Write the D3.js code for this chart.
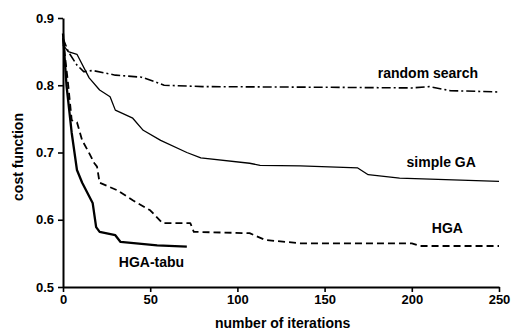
<!DOCTYPE html>
<html>
<head>
<meta charset="utf-8">
<script src="https://cdn.jsdelivr.net/npm/d3@7"></script>
<style>
  body { margin: 0; background: #fff; }
  svg { display: block; }
</style>
</head>
<body>
<div id="chart"></div>
<script>
const iterTicks = [0, 50, 100, 150, 200, 250];
const costTicks = [0.5, 0.6, 0.7, 0.8, 0.9];

// [iteration, cost]
const randomSearch = [[0, 0.87], [3, 0.85], [8, 0.83], [12, 0.82], [17, 0.822], [30, 0.815],
  [45, 0.812], [52, 0.806], [58, 0.80], [80, 0.798], [150, 0.797], [200, 0.796], [210, 0.798],
  [222, 0.792], [250, 0.79]];
const simpleGA = [[0, 0.86], [3, 0.85], [8, 0.846], [15, 0.811], [21, 0.793], [27, 0.783],
  [30, 0.763], [40, 0.751], [46, 0.733], [56, 0.718], [71, 0.70], [79, 0.692], [107, 0.684],
  [113, 0.681], [136, 0.68], [169, 0.677], [175, 0.667], [193, 0.662], [250, 0.657]];
const hga = [[0, 0.87], [3, 0.80], [5, 0.748], [8, 0.745], [11, 0.718], [14, 0.704],
  [18, 0.684], [19.5, 0.679], [21, 0.655], [31, 0.644], [40, 0.629], [50, 0.614], [57, 0.595],
  [73, 0.595], [75, 0.582], [107, 0.58], [116, 0.57], [136, 0.565], [200, 0.565], [205, 0.561],
  [250, 0.561]];
const hgaTabu = [[0, 0.877], [2, 0.80], [5, 0.729], [8, 0.674], [11, 0.655], [17, 0.625],
  [19, 0.589], [21, 0.582], [30, 0.577], [33, 0.567], [54, 0.562], [71, 0.56]];

const seriesLabels = [
  { text: "random search", at: [180.5, 0.811] },
  { text: "simple GA", at: [197, 0.678] },
  { text: "HGA", at: [211.5, 0.580] },
  { text: "HGA-tabu", at: [32, 0.530] }
];

const width = 512, height = 333;
const margin = { top: 18, right: 13, bottom: 46, left: 63 };

const svg = d3.select("#chart").append("svg")
  .attr("width", width)
  .attr("height", height)
  .style("font-family", "'Liberation Sans', Arial, sans-serif");

const x = d3.scaleLinear().domain([0, 250]).range([margin.left, width - margin.right]);
const y = d3.scaleLinear().domain([0.5, 0.9]).range([height - margin.bottom, margin.top]);

// axes
const xAxis = svg.append("g")
  .attr("transform", `translate(0,${y(0.5)})`)
  .call(d3.axisBottom(x).tickValues(iterTicks).tickSize(5).tickSizeOuter(0).tickPadding(3));
const yAxis = svg.append("g")
  .attr("transform", `translate(${x(0)},0)`)
  .call(d3.axisLeft(y).tickValues(costTicks).tickFormat(d3.format(".1f")).tickSize(5).tickSizeOuter(0).tickPadding(4));

[xAxis, yAxis].forEach((g) => {
  g.select(".domain").attr("stroke", "#000").attr("stroke-width", 2);
  g.selectAll(".tick line").attr("stroke", "#000").attr("stroke-width", 1.6);
  g.selectAll("text").attr("fill", "#000").style("font-size", "13px").style("font-weight", "bold");
});

// axis titles
svg.append("text")
  .attr("x", 215)
  .attr("y", 328)
  .style("font-size", "14px")
  .style("font-weight", "bold")
  .text("number of iterations");

svg.append("text")
  .attr("transform", `translate(23,157) rotate(-90)`)
  .attr("text-anchor", "middle")
  .style("font-size", "14px")
  .style("font-weight", "bold")
  .text("cost function");

// lines
const line = d3.line().x((d) => x(d[0])).y((d) => y(d[1]));

const lines = [
  { data: randomSearch, width: 1.6, dash: "9,3,2,3" },
  { data: simpleGA, width: 1.3, dash: null },
  { data: hga, width: 1.8, dash: "7,4" },
  { data: hgaTabu, width: 2.3, dash: null }
];

svg.append("g")
  .attr("fill", "none")
  .attr("stroke", "#000")
  .selectAll("path")
  .data(lines)
  .join("path")
  .attr("stroke-width", (d) => d.width)
  .attr("stroke-dasharray", (d) => d.dash)
  .attr("stroke-linejoin", "round")
  .attr("d", (d) => line(d.data));

// series labels
svg.append("g")
  .selectAll("text")
  .data(seriesLabels)
  .join("text")
  .attr("x", (d) => x(d.at[0]))
  .attr("y", (d) => y(d.at[1]))
  .style("font-size", "14px")
  .style("font-weight", "bold")
  .text((d) => d.text);
</script>
</body>
</html>
